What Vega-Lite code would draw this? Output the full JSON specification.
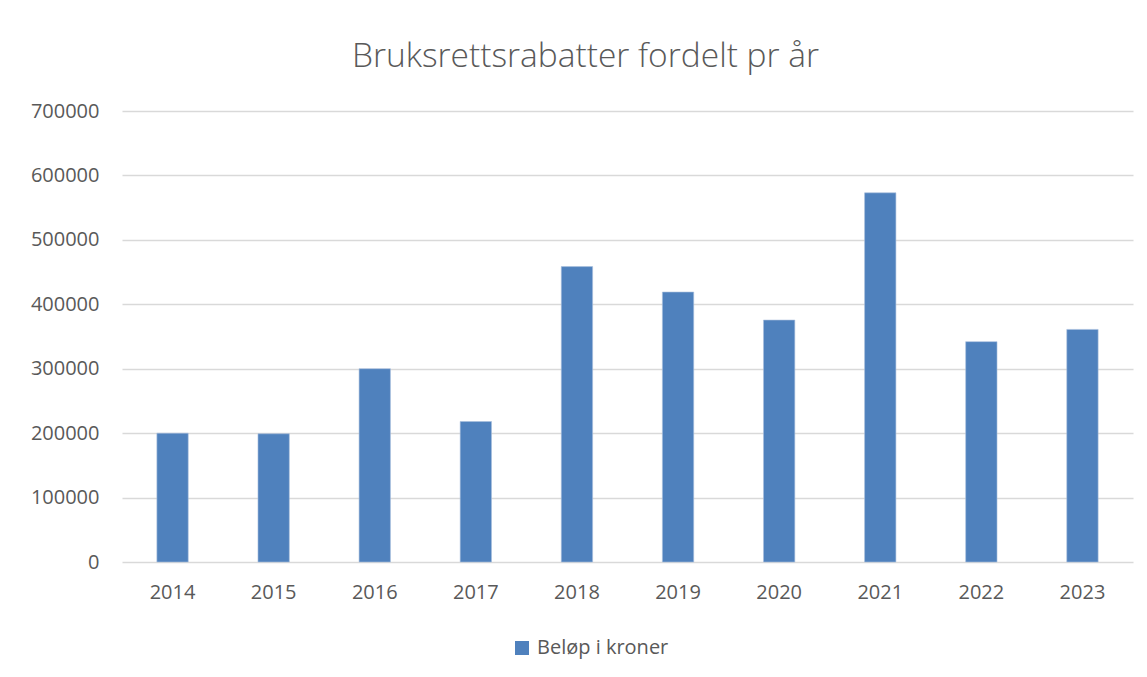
{
  "$schema": "https://vega.github.io/schema/vega-lite/v6.json",
  "width": 1011,
  "height": 451,
  "autosize": "none",
  "padding": {"left": 122, "top": 111, "right": 14, "bottom": 115},
  "background": "white",
  "data": {
    "values": [
      {"year": "2014", "amount": 200000, "series": "Beløp i kroner"},
      {"year": "2015", "amount": 199000, "series": "Beløp i kroner"},
      {"year": "2016", "amount": 300000, "series": "Beløp i kroner"},
      {"year": "2017", "amount": 218000, "series": "Beløp i kroner"},
      {"year": "2018", "amount": 458500, "series": "Beløp i kroner"},
      {"year": "2019", "amount": 419000, "series": "Beløp i kroner"},
      {"year": "2020", "amount": 375500, "series": "Beløp i kroner"},
      {"year": "2021", "amount": 573000, "series": "Beløp i kroner"},
      {"year": "2022", "amount": 342000, "series": "Beløp i kroner"},
      {"year": "2023", "amount": 361000, "series": "Beløp i kroner"}
    ]
  },
  "title": {
    "text": "Bruksrettsrabatter fordelt pr år",
    "font": "Open Sans",
    "fontSize": 33.5,
    "fontWeight": 300,
    "color": "#595959",
    "anchor": "middle",
    "dx": -42,
    "offset": 27
  },
  "mark": {"type": "bar", "color": "#4f81bd", "stroke": "#a9c0dd", "strokeWidth": 0.6},
  "encoding": {
    "x": {
      "field": "year",
      "type": "ordinal",
      "title": null,
      "scale": {"paddingInner": 0.69, "paddingOuter": 0.345},
      "axis": {
        "labelAngle": 0,
        "labelFont": "Open Sans",
        "labelFontSize": 20,
        "labelColor": "#595959",
        "labelPadding": 20,
        "ticks": false,
        "domain": false,
        "grid": false
      }
    },
    "y": {
      "field": "amount",
      "type": "quantitative",
      "title": null,
      "scale": {"domain": [0, 700000], "nice": false},
      "axis": {
        "values": [0, 100000, 200000, 300000, 400000, 500000, 600000, 700000],
        "format": "d",
        "labelFont": "Open Sans",
        "labelFontSize": 20,
        "labelColor": "#595959",
        "labelPadding": 23,
        "ticks": false,
        "domain": false,
        "grid": true,
        "gridColor": "#d9d9d9",
        "gridWidth": 1.3
      }
    },
    "color": {
      "field": "series",
      "type": "nominal",
      "scale": {"range": ["#4f81bd"]},
      "legend": {
        "title": null,
        "orient": "none",
        "legendX": 390,
        "legendY": 527,
        "symbolType": "square",
        "symbolSize": 196,
        "symbolStrokeWidth": 0,
        "labelFont": "Open Sans",
        "labelFontSize": 20,
        "labelColor": "#595959",
        "labelOffset": 5
      }
    }
  },
  "config": {"view": {"stroke": null}}
}
